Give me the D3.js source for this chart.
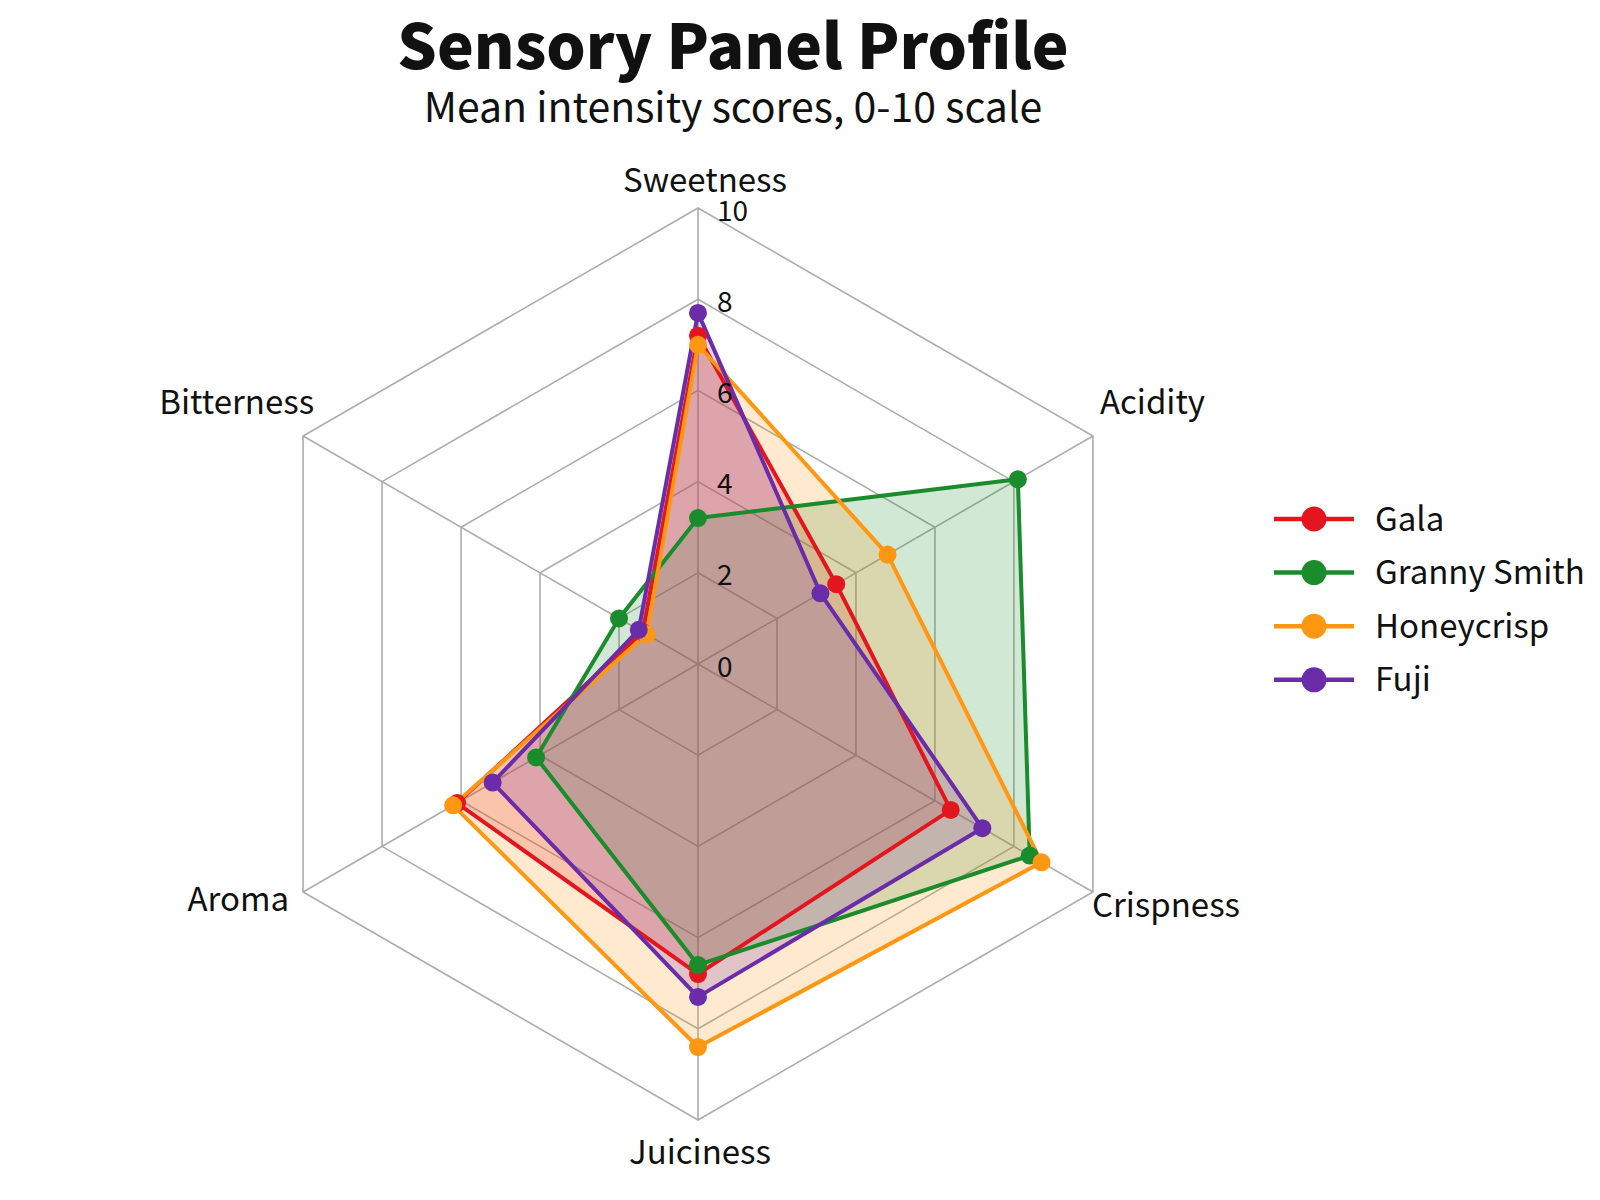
<!DOCTYPE html>
<html>
<head>
<meta charset="utf-8">
<script src="https://cdn.jsdelivr.net/npm/d3@7"></script>
<style>
    body { margin: 0; background: #ffffff; }
    text { font-family: "Noto Sans CJK JP", "Noto Sans", sans-serif; fill: #111; }
</style>
</head>
<body>
<div id="chart"></div>
<script>
// sensory radar data
var axesNames = ["Sweetness", "Acidity", "Crispness", "Juiciness", "Aroma", "Bitterness"];
var seriesNames = ["Gala", "Granny Smith", "Honeycrisp", "Fuji"];
var galaValues = [7.2, 3.5, 6.4, 6.8, 6.1, 1.4];
var grannyValues = [3.2, 8.1, 8.4, 6.6, 4.1, 2.0];
var honeycrispValues = [7.0, 4.8, 8.7, 8.4, 6.2, 1.3];
var fujiValues = [7.7, 3.1, 7.2, 7.3, 5.2, 1.5];
var tickValues = [0, 2, 4, 6, 8, 10];

var colors = ["#e3161f", "#1a8c2c", "#ff9712", "#6a2ca8"];
var allValues = [galaValues, grannyValues, honeycrispValues, fujiValues];

var svgwidth = 1600, svgheight = 1200;
var cx = 698, cy = 664, radius = 456;

var svg = d3.select("#chart")
    .append("svg")
    .attr("width", svgwidth)
    .attr("height", svgheight);

svg.append("rect")
    .attr("width", svgwidth)
    .attr("height", svgheight)
    .attr("fill", "#ffffff");

// titles
svg.append("text")
    .attr("x", 733)
    .attr("y", 69)
    .attr("text-anchor", "middle")
    .style("font-size", "62px")
    .style("font-weight", "900")
    .text("Sensory Panel Profile");

svg.append("text")
    .attr("x", 733)
    .attr("y", 122)
    .attr("text-anchor", "middle")
    .style("font-size", "41px")
    .text("Mean intensity scores, 0-10 scale");

var g = svg.append("g")
    .attr("transform", "translate(" + cx + "," + cy + ")");

var r = d3.scaleLinear().domain([0, 10]).range([0, radius]);
var angle = d3.scalePoint().domain(axesNames).range([0, 2 * Math.PI * 5 / 6]);

function px(name, v) { return r(v) * Math.sin(angle(name)); }
function py(name, v) { return -r(v) * Math.cos(angle(name)); }

// hexagon grid rings
var grid = g.append("g").attr("class", "grid");
tickValues.filter(function(t) { return t > 0; }).forEach(function(t) {
    grid.append("path")
        .attr("d", d3.lineRadial()
            .angle(function(d) { return angle(d); })
            .radius(function() { return r(t); })
            .curve(d3.curveLinearClosed)(axesNames))
        .attr("fill", "none")
        .attr("stroke", "#adadad")
        .attr("stroke-width", 1.6);
});

// spokes
grid.selectAll(".spoke")
    .data(axesNames)
    .enter().append("line")
    .attr("class", "spoke")
    .attr("x1", 0).attr("y1", 0)
    .attr("x2", function(d) { return px(d, 10); })
    .attr("y2", function(d) { return py(d, 10); })
    .attr("stroke", "#adadad")
    .attr("stroke-width", 1.6);

// series polygons
var radarLine = d3.lineRadial()
    .angle(function(d, i) { return angle(axesNames[i]); })
    .radius(function(d) { return r(d); })
    .curve(d3.curveLinearClosed);

g.append("g")
    .selectAll(".area")
    .data(allValues)
    .enter().append("path")
    .attr("class", "area")
    .attr("d", function(d) { return radarLine(d); })
    .attr("fill", function(d, i) { return colors[i]; })
    .attr("fill-opacity", 0.2)
    .attr("stroke", "none");

g.append("g")
    .selectAll(".outline")
    .data(allValues)
    .enter().append("path")
    .attr("class", "outline")
    .attr("d", function(d) { return radarLine(d); })
    .attr("fill", "none")
    .attr("stroke", function(d, i) { return colors[i]; })
    .attr("stroke-width", 4)
    .attr("stroke-linejoin", "round");

allValues.forEach(function(vals, si) {
    g.append("g")
        .selectAll("circle")
        .data(vals)
        .enter().append("circle")
        .attr("cx", function(d, i) { return px(axesNames[i], d); })
        .attr("cy", function(d, i) { return py(axesNames[i], d); })
        .attr("r", 9)
        .attr("fill", colors[si]);
});

// tick labels along the top spoke
g.append("g")
    .selectAll(".tick")
    .data(tickValues)
    .enter().append("text")
    .attr("class", "tick")
    .attr("x", 19)
    .attr("y", function(d) { return -r(d); })
    .attr("dy", "0.45em")
    .style("font-size", "28px")
    .text(function(d) { return d; });

// axis labels: nudges away from the outer vertex
var labelNudge = {
    "Sweetness":  {dx: 7,   dy: -28, anchor: "middle"},
    "Acidity":    {dx: 7,   dy: -34, anchor: "start"},
    "Crispness":  {dx: -1,  dy: 13,  anchor: "start"},
    "Juiciness":  {dx: 2,   dy: 32,  anchor: "middle"},
    "Aroma":      {dx: -14, dy: 7,   anchor: "end"},
    "Bitterness": {dx: 11,  dy: -34, anchor: "end"}
};

g.append("g")
    .selectAll(".axis-label")
    .data(axesNames)
    .enter().append("text")
    .attr("class", "axis-label")
    .attr("x", function(d) { return px(d, 10) + labelNudge[d].dx; })
    .attr("y", function(d) { return py(d, 10) + labelNudge[d].dy; })
    .attr("dy", "0.35em")
    .attr("text-anchor", function(d) { return labelNudge[d].anchor; })
    .style("font-size", "33px")
    .text(function(d) { return d; });

// legend
var legend = svg.append("g")
    .attr("transform", "translate(1274,519)");

var items = legend.selectAll(".legend-item")
    .data(seriesNames)
    .enter().append("g")
    .attr("class", "legend-item")
    .attr("transform", function(d, i) { return "translate(0," + (i * 53.6) + ")"; });

items.append("line")
    .attr("x1", 0).attr("x2", 80)
    .attr("y1", 0).attr("y2", 0)
    .attr("stroke", function(d, i) { return colors[i]; })
    .attr("stroke-width", 4.5);

items.append("circle")
    .attr("cx", 40)
    .attr("cy", 0)
    .attr("r", 12.5)
    .attr("fill", function(d, i) { return colors[i]; });

items.append("text")
    .attr("x", 101)
    .attr("y", 0)
    .attr("dy", "0.35em")
    .style("font-size", "33px")
    .text(function(d) { return d; });
</script>
</body>
</html>
